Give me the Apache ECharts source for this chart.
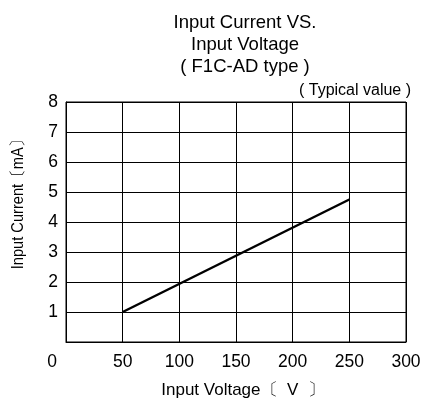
<!DOCTYPE html>
<html><head><meta charset="utf-8">
<script src="https://cdn.jsdelivr.net/npm/echarts@6/dist/echarts.min.js"></script>
<style>html,body{margin:0;padding:0;background:#fff}#c{width:426px;height:405px}</style>
</head><body><div id="c"></div>
<script>
const voltage = [50, 250];
const current = [1, 4.75];
const xTicks = [0, 50, 100, 150, 200, 250, 300];
const yTicks = [0, 1, 2, 3, 4, 5, 6, 7, 8];
const titleLines = ['Input Current VS.', 'Input Voltage', '( F1C-AD type )'];
const noteText = '( Typical value )';
const xName = 'Input Voltage〔  V  〕';
const yName = 'Input Current〔mA〕';

const FONT = '"Liberation Sans", Arial, sans-serif';
const chart = echarts.init(document.getElementById('c'));
chart.setOption({
  animation: false,
  backgroundColor: '#fff',
  textStyle: {fontFamily: FONT, color: '#000'},
  title: {
    text: titleLines.join('\n'),
    left: 240, textAlign: 'center', top: 7,
    textStyle: {fontFamily: FONT, fontSize: 18.5, fontWeight: 'normal', color: '#000', lineHeight: 22}
  },
  graphic: [{
    type: 'text', right: 15, top: 83,
    style: {text: noteText, font: '16px ' + FONT, fill: '#000'}
  }, {
    type: 'text', x: 18, y: 201, rotation: Math.PI / 2, scaleX: 0.86,
    style: {text: yName, font: '17px ' + FONT, fill: '#000', align: 'center', verticalAlign: 'middle'}
  }],
  grid: {left: 66, right: 20, top: 102, bottom: 63, show: true, borderColor: '#000', borderWidth: 1, containLabel: false},
  xAxis: {
    type: 'value', min: xTicks[0], max: xTicks[xTicks.length - 1], interval: 50,
    name: xName, nameLocation: 'middle', nameGap: 40,
    nameTextStyle: {fontFamily: FONT, fontSize: 17, color: '#000', padding: [0, 0, 0, 14]},
    axisLine: {show: true, lineStyle: {color: '#000', width: 1}},
    axisTick: {show: false},
    splitLine: {show: true, lineStyle: {color: '#000', width: 1}},
    axisLabel: {
      margin: 11, fontFamily: FONT, fontSize: 17.5, color: '#000',
      formatter: v => v === 0 ? '{z|0}' : String(v),
      rich: {z: {fontFamily: FONT, fontSize: 17.5, color: '#000', padding: [0, 28, 0, 0]}}
    }
  },
  yAxis: {
    type: 'value', min: yTicks[0], max: yTicks[yTicks.length - 1], interval: 1,
    axisLine: {show: true, lineStyle: {color: '#000', width: 1}},
    axisTick: {show: false},
    splitLine: {show: true, lineStyle: {color: '#000', width: 1}},
    axisLabel: {
      margin: 8, fontFamily: FONT, fontSize: 17.5, color: '#000',
      formatter: v => v === 0 ? '' : String(v)
    }
  },
  series: [{
    type: 'line',
    data: voltage.map((v, i) => [v, current[i]]),
    symbol: 'none',
    lineStyle: {color: '#000', width: 2.5}
  }]
});
</script></body></html>
